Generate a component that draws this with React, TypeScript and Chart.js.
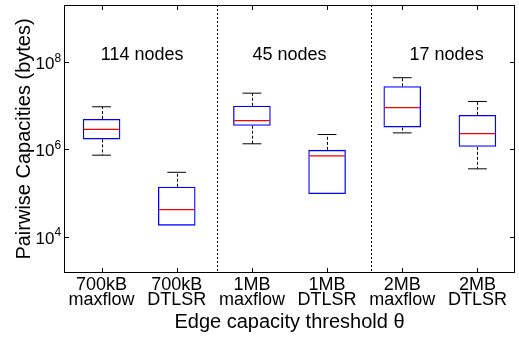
import { useEffect, useRef } from 'react';
import { Chart, registerables } from 'chart.js';

Chart.register(...registerables);

// ---- data ----
const categories: string[][] = [
  ['700kB', 'maxflow'],
  ['700kB', 'DTLSR'],
  ['1MB', 'maxflow'],
  ['1MB', 'DTLSR'],
  ['2MB', 'maxflow'],
  ['2MB', 'DTLSR'],
];
const whiskerLow = [7.4e5, 1.8e4, 1.35e6, 9.5e4, 2.4e6, 3.6e5];
const quartile1 = [1.7e6, 1.8e4, 3.5e6, 9.5e4, 3.2e6, 1.15e6];
const medians = [2.9e6, 4.2e4, 4.6e6, 7.1e5, 9.1e6, 2.3e6];
const quartile3 = [5.0e6, 1.4e5, 1.0e7, 9.8e5, 2.8e7, 6.2e6];
const whiskerHigh = [9.5e6, 3.0e5, 1.95e7, 2.2e6, 4.4e7, 1.26e7];
const yTickValues = [1e4, 1e6, 1e8];
const yMin = 1.48e3;
const yMax = 2.04e9;
const groupLabels = ['114 nodes', '45 nodes', '17 nodes'];
const groupLabelAt = [0.54, 2.5, 4.59];
const groupLabelValue = 1.12e8;
const dividerAt = [1.54, 3.58];

const FONT = "'Liberation Sans', Arial, Helvetica, sans-serif";

const decorPlugin = {
  id: 'boxDecor',
  beforeDatasetsDraw(chart: any) {
    const { ctx, chartArea: a, scales } = chart;
    const x = scales.x;
    const y = scales.y;
    const step = x.getPixelForValue(1) - x.getPixelForValue(0);
    ctx.save();
    // group dividers
    ctx.strokeStyle = '#000';
    ctx.lineWidth = 1;
    ctx.setLineDash([2, 2]);
    dividerAt.forEach((v) => {
      const px = Math.round(x.getPixelForValue(v)) + 0.5;
      ctx.beginPath();
      ctx.moveTo(px, a.top);
      ctx.lineTo(px, a.bottom);
      ctx.stroke();
    });
    // whiskers
    ctx.setLineDash([3, 2]);
    categories.forEach((_, i) => {
      const cx = Math.round(x.getPixelForValue(i)) + 0.5;
      ctx.beginPath();
      if (whiskerHigh[i] > quartile3[i]) {
        ctx.moveTo(cx, y.getPixelForValue(quartile3[i]));
        ctx.lineTo(cx, y.getPixelForValue(whiskerHigh[i]));
      }
      if (whiskerLow[i] < quartile1[i]) {
        ctx.moveTo(cx, y.getPixelForValue(quartile1[i]));
        ctx.lineTo(cx, y.getPixelForValue(whiskerLow[i]));
      }
      ctx.stroke();
    });
    // caps
    ctx.setLineDash([]);
    const half = step * 0.125;
    categories.forEach((_, i) => {
      const cx = x.getPixelForValue(i);
      const ends: number[] = [];
      if (whiskerHigh[i] > quartile3[i]) ends.push(whiskerHigh[i]);
      if (whiskerLow[i] < quartile1[i]) ends.push(whiskerLow[i]);
      ends.forEach((v) => {
        const py = y.getPixelForValue(v);
        ctx.beginPath();
        ctx.moveTo(cx - half, py);
        ctx.lineTo(cx + half, py);
        ctx.stroke();
      });
    });
    ctx.restore();
  },
  afterDatasetsDraw(chart: any) {
    const { ctx, chartArea: a, scales } = chart;
    const x = scales.x;
    const y = scales.y;
    const step = x.getPixelForValue(1) - x.getPixelForValue(0);
    ctx.save();
    // medians
    ctx.strokeStyle = '#ff0000';
    ctx.lineWidth = 1.2;
    const mh = step * 0.25 - 1;
    medians.forEach((m, i) => {
      const cx = x.getPixelForValue(i);
      const py = y.getPixelForValue(m);
      ctx.beginPath();
      ctx.moveTo(cx - mh, py);
      ctx.lineTo(cx + mh, py);
      ctx.stroke();
    });
    // frame
    ctx.strokeStyle = '#000';
    ctx.lineWidth = 1;
    ctx.strokeRect(a.left + 0.5, a.top + 0.5, a.right - a.left - 1, a.bottom - a.top - 1);
    // inward ticks
    const tl = 5;
    ctx.beginPath();
    categories.forEach((_, i) => {
      const px = Math.round(x.getPixelForValue(i)) + 0.5;
      ctx.moveTo(px, a.bottom);
      ctx.lineTo(px, a.bottom - tl);
      ctx.moveTo(px, a.top);
      ctx.lineTo(px, a.top + tl);
    });
    yTickValues.forEach((v) => {
      const py = Math.round(y.getPixelForValue(v)) + 0.5;
      ctx.moveTo(a.left, py);
      ctx.lineTo(a.left + tl, py);
      ctx.moveTo(a.right, py);
      ctx.lineTo(a.right - tl, py);
    });
    ctx.stroke();
    // y tick labels 10^n
    ctx.fillStyle = '#000';
    yTickValues.forEach((v) => {
      const py = y.getPixelForValue(v);
      const exp = String(Math.round(Math.log10(v)));
      const rx = a.left - 9.5;
      ctx.font = `17px ${FONT}`;
      ctx.textAlign = 'right';
      ctx.textBaseline = 'alphabetic';
      ctx.fillText('10', rx, py + 7);
      ctx.font = `12px ${FONT}`;
      ctx.textAlign = 'left';
      ctx.fillText(exp, rx, py - 0.5);
    });
    // group labels
    ctx.font = `18px ${FONT}`;
    ctx.textAlign = 'center';
    ctx.textBaseline = 'alphabetic';
    groupLabels.forEach((t, i) => {
      ctx.fillText(t, x.getPixelForValue(groupLabelAt[i]), y.getPixelForValue(groupLabelValue));
    });
    ctx.restore();
  },
};

export default function App() {
  const ref = useRef<HTMLCanvasElement | null>(null);
  useEffect(() => {
    if (!ref.current) return;
    const chart = new Chart(ref.current, {
      type: 'bar',
      data: {
        labels: categories as any,
        datasets: [
          {
            data: quartile1.map((q, i) => [q, quartile3[i]]) as any,
            backgroundColor: 'rgba(0,0,0,0)',
            borderColor: '#0000ff',
            borderWidth: 1.3,
            borderSkipped: false,
            barPercentage: 0.5,
            categoryPercentage: 1,
          },
        ],
      },
      options: {
        responsive: false,
        animation: false,
        layout: { padding: { top: 5, right: 4, left: 0, bottom: 0 } },
        plugins: { legend: { display: false }, tooltip: { enabled: false } },
        scales: {
          x: {
            type: 'category',
            offset: true,
            grid: { display: false, drawTicks: false },
            border: { display: false },
            ticks: {
              color: '#000',
              font: { family: FONT, size: 18, lineHeight: 0.78 },
              padding: 5.5,
              maxRotation: 0,
              autoSkip: false,
            },
            title: {
              display: true,
              text: 'Edge capacity threshold θ',
              color: '#000',
              font: { family: FONT, size: 20, lineHeight: 1.2 },
              padding: { top: 0, bottom: 2.6 },
            },
            afterFit: (s: any) => {
              s.height = 64;
            },
          },
          y: {
            type: 'logarithmic',
            min: yMin,
            max: yMax,
            grid: { display: false, drawTicks: false },
            border: { display: false },
            ticks: { display: false },
            afterBuildTicks: (s: any) => {
              s.ticks = yTickValues.map((v) => ({ value: v }));
            },
            title: {
              display: true,
              text: 'Pairwise Capacities (bytes)',
              color: '#000',
              font: { family: FONT, size: 20, lineHeight: 1.2 },
              padding: { top: 12.8, bottom: 0 },
            },
            afterFit: (s: any) => {
              s.width = 64;
            },
          },
        },
      } as any,
      plugins: [decorPlugin],
    });
    return () => chart.destroy();
  }, []);
  return (
    <div style={{ position: 'absolute', left: 0, top: 0, width: 519, height: 337 }}>
      <canvas ref={ref} width={519} height={337} style={{ display: 'block' }} />
    </div>
  );
}
